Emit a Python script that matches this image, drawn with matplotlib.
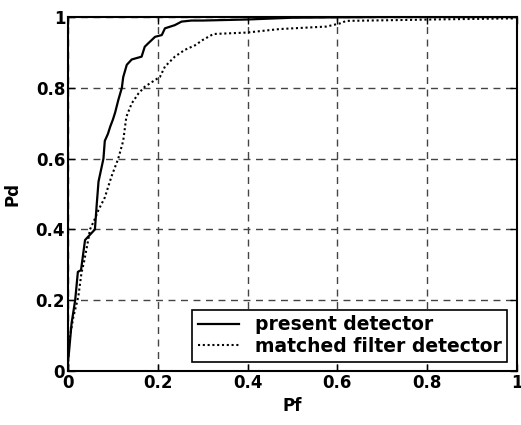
import numpy as np
import matplotlib.pyplot as plt

# ROC curves
pf_present = [0.0, 0.0, 0.002, 0.008, 0.016, 0.022, 0.029, 0.038, 0.06, 0.064, 0.068,
              0.079, 0.082, 0.089, 0.094, 0.1, 0.105, 0.112, 0.12, 0.123, 0.131,
              0.142, 0.164, 0.171, 0.179, 0.194, 0.209, 0.216, 0.238, 0.253, 0.275,
              0.3, 0.4, 0.5, 0.7, 1.0]
pd_present = [0.0, 0.03, 0.05, 0.135, 0.2, 0.28, 0.285, 0.37, 0.40, 0.47, 0.535,
              0.60, 0.65, 0.67, 0.69, 0.71, 0.73, 0.765, 0.80, 0.83, 0.865,
              0.88, 0.888, 0.916, 0.926, 0.944, 0.949, 0.968, 0.977, 0.987, 0.99,
              0.99, 0.993, 0.998, 1.0, 1.0]

pf_matched = [0.0, 0.002, 0.012, 0.023, 0.03, 0.036, 0.045, 0.049, 0.06, 0.068,
              0.082, 0.097, 0.112, 0.123, 0.13, 0.142, 0.157, 0.171, 0.194, 0.205,
              0.216, 0.238, 0.26, 0.283, 0.3, 0.324, 0.398, 0.472, 0.576, 0.606,
              0.62, 0.77, 0.81, 0.99, 1.0]
pd_matched = [0.0, 0.08, 0.153, 0.21, 0.277, 0.31, 0.37, 0.40, 0.43, 0.455,
              0.49, 0.55, 0.60, 0.65, 0.718, 0.756, 0.784, 0.803, 0.822, 0.831,
              0.86, 0.888, 0.907, 0.92, 0.935, 0.952, 0.956, 0.966, 0.973, 0.982,
              0.989, 0.992, 0.993, 0.996, 1.0]

ticks = [0, 0.2, 0.4, 0.6, 0.8, 1]
tick_labels = ['0', '0.2', '0.4', '0.6', '0.8', '1']

plt.rcParams['font.family'] = ['DejaVu Sans']
plt.rcParams['font.weight'] = 'bold'

fig = plt.figure(figsize=(5.21, 4.25), dpi=100)
ax = fig.add_axes([0.1305, 0.127, 0.8615, 0.833])

ax.plot(pf_present, pd_present, color='black', lw=1.6, ls='-', label='present detector')
ax.plot(pf_matched, pd_matched, color='black', lw=1.5, ls=(0, (1, 1.3)), label='matched filter detector')

ax.set_xlim(0, 1)
ax.set_ylim(0, 1)
ax.set_xticks(ticks)
ax.set_xticklabels(tick_labels)
ax.set_yticks(ticks)
ax.set_yticklabels(tick_labels)
ax.tick_params(direction='in', top=True, right=True, length=5, width=1,
               labelsize=12, pad=2)
for lab in ax.get_xticklabels() + ax.get_yticklabels():
    lab.set_fontweight('bold')

ax.grid(True, color='#444444', ls=(0, (5, 4)), lw=1)
for s in ax.spines.values():
    s.set_linewidth(1.5)

ax.set_xlabel('Pf', fontsize=12, fontweight='bold', labelpad=4)
ax.set_ylabel('Pd', fontsize=12, fontweight='bold', labelpad=10)

leg = ax.legend(loc='lower right', fontsize=13.5, frameon=True, fancybox=False,
                edgecolor='black', framealpha=1, handlelength=2.2,
                handletextpad=0.85, borderpad=0.3, labelspacing=0.15,
                borderaxespad=0.5)
leg.get_frame().set_linewidth(1.2)
for t in leg.get_texts():
    t.set_fontweight('bold')

fig.savefig('out.png', dpi=100)
